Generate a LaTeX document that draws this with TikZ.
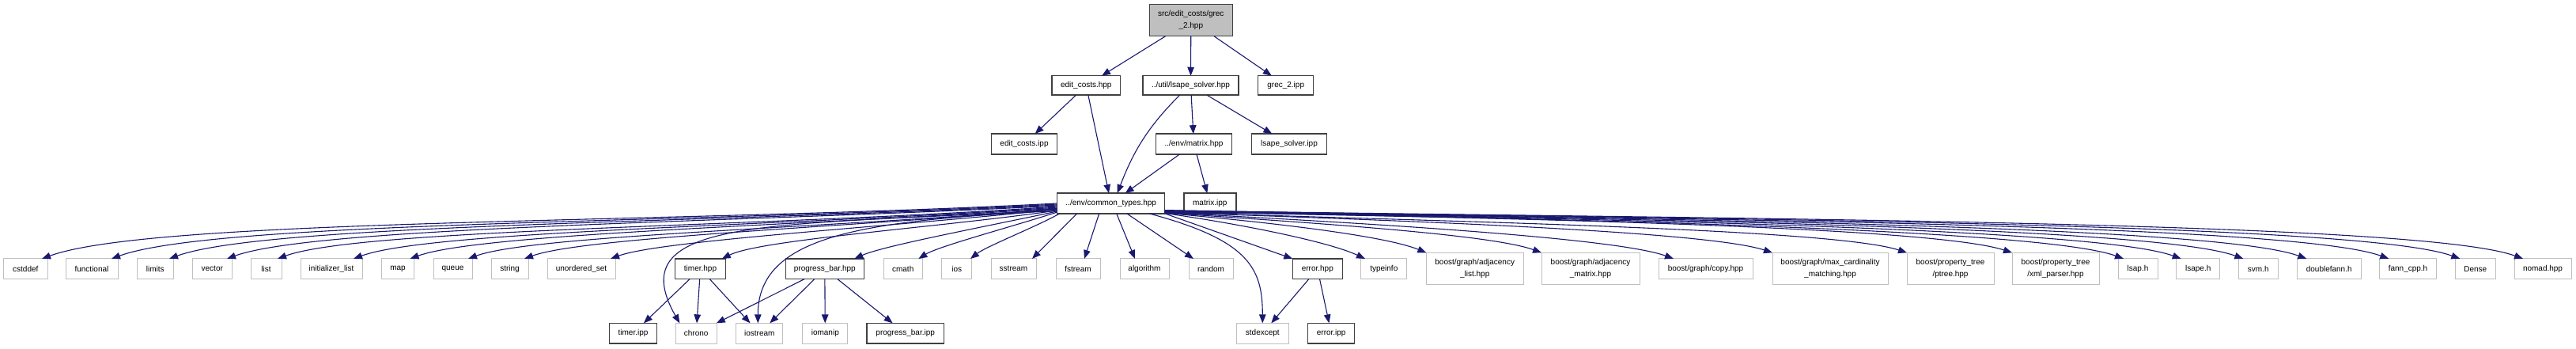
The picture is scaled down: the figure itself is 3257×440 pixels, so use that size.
\documentclass[tikz,border=0pt]{standalone}
\usepackage{fontspec}
\setmainfont{Liberation Sans}
\usetikzlibrary{arrows.meta}
\definecolor{edgec}{HTML}{191970}
\definecolor{gborder}{HTML}{BFBFBF}
\definecolor{dborder}{HTML}{404040}
\definecolor{rootfill}{HTML}{BFBFBF}
\begin{document}
\begin{tikzpicture}[x=1pt,y=1pt,
  box/.style={rectangle, inner sep=0pt, outer sep=0pt, minimum height=25.7pt, font=\fontsize{10pt}{15pt}\selectfont, align=center, fill=white, text=black},
  gbox/.style={box, draw=gborder, line width=1pt},
  dbox/.style={box, draw=dborder, line width=1.5pt},
  rbox/.style={dbox, fill=rootfill},
  tall/.style={minimum height=40pt},
  edge/.style={draw=edgec, line width=1.1pt, -{Triangle[length=11pt,width=8.5pt]}}
]
\useasboundingbox (0,0) rectangle (3257,440);
% top part
\node[rbox, tall, minimum width=105pt] (root) at (1505.8,414.3) {src/edit\_costs/grec\\\_2.hpp};
\node[dbox, minimum width=86.7pt, minimum height=24.5pt] (ech) at (1373.3,332) {edit\_costs.hpp};
\node[dbox, minimum width=121pt, minimum height=24.5pt] (lsh) at (1505.5,332) {../util/lsape\_solver.hpp};
\node[dbox, minimum width=70pt, minimum height=24.5pt] (grec) at (1625.7,332) {grec\_2.ipp};
\node[dbox, minimum width=83.4pt] (eci) at (1295,258) {edit\_costs.ipp};
\node[dbox, minimum width=95.6pt] (mh) at (1509.5,258) {../env/matrix.hpp};
\node[dbox, minimum width=94.6pt] (lsi) at (1630,258) {lsape\_solver.ipp};
\node[dbox, minimum width=136pt] (ct) at (1404.7,183) {../env/common\_types.hpp};
\node[dbox, minimum width=66pt] (mi) at (1529.8,183) {matrix.ipp};
% lower row
\node[gbox, minimum width=55.4pt] (cstddef) at (32.3,100.2) {cstddef};
\node[gbox, minimum width=66pt] (functional) at (116,100.2) {functional};
\node[gbox, minimum width=45.4pt] (limits) at (196.3,100.2) {limits};
\node[gbox, minimum width=49.4pt] (vector) at (268.3,100.2) {vector};
\node[gbox, minimum width=39pt] (list) at (336.5,100.2) {list};
\node[gbox, minimum width=78pt] (initlist) at (419,100.2) {initializer\_list};
\node[gbox, minimum width=41pt] (map) at (503,100.2) {map};
\node[gbox, minimum width=49pt] (queue) at (572.5,100.2) {queue};
\node[gbox, minimum width=47pt] (string) at (644.5,100.2) {string};
\node[gbox, minimum width=86pt] (uset) at (735,100.2) {unordered\_set};
\node[dbox, minimum width=64.4pt] (timerh) at (885.5,100.2) {timer.hpp};
\node[dbox, minimum width=99pt] (pbh) at (1042.8,100.2) {progress\_bar.hpp};
\node[gbox, minimum width=49.3pt] (cmath) at (1141.7,100.2) {cmath};
\node[gbox, minimum width=38.3pt] (ios) at (1209.8,100.2) {ios};
\node[gbox, minimum width=57pt] (sstream) at (1281.5,100.2) {sstream};
\node[gbox, minimum width=56pt] (fstream) at (1363,100.2) {fstream};
\node[gbox, minimum width=62pt] (algorithm) at (1447,100.2) {algorithm};
\node[gbox, minimum width=56pt] (random) at (1531,100.2) {random};
\node[dbox, minimum width=63pt] (errorh) at (1665.8,100.2) {error.hpp};
\node[gbox, minimum width=57.7pt] (typeinfo) at (1749.8,100.2) {typeinfo};
\node[gbox, tall, minimum width=122.7pt] (adjl) at (1864.7,100.7) {boost/graph/adjacency\\\_list.hpp};
\node[gbox, tall, minimum width=124pt] (adjm) at (2011,100.7) {boost/graph/adjacency\\\_matrix.hpp};
\node[gbox, minimum width=119pt] (copy) at (2156.5,100.2) {boost/graph/copy.hpp};
\node[gbox, tall, minimum width=146pt] (maxc) at (2314,100.7) {boost/graph/max\_cardinality\\\_matching.hpp};
\node[gbox, tall, minimum width=110pt] (ptree) at (2466,100.7) {boost/property\_tree\\/ptree.hpp};
\node[gbox, tall, minimum width=110pt] (xmlp) at (2599,100.7) {boost/property\_tree\\/xml\_parser.hpp};
\node[gbox, minimum width=50pt] (lsap) at (2703,100.2) {lsap.h};
\node[gbox, minimum width=55pt] (lsape) at (2779.2,100.2) {lsape.h};
\node[gbox, minimum width=49.7pt] (svm) at (2855.2,100.2) {svm.h};
\node[gbox, minimum width=80.7pt] (dfann) at (2944.7,100.2) {doublefann.h};
\node[gbox, minimum width=72.4pt] (fanncpp) at (3044.5,100.2) {fann\_cpp.h};
\node[gbox, minimum width=51pt] (dense) at (3129.8,100.2) {Dense};
\node[gbox, minimum width=72pt] (nomad) at (3215,100.2) {nomad.hpp};
% bottom row
\node[dbox, minimum width=59.6pt] (timeri) at (800.5,18.8) {timer.ipp};
\node[gbox, minimum width=51.7pt] (chrono) at (880.2,18.8) {chrono};
\node[gbox, minimum width=59.3pt] (iostream) at (960.3,18.8) {iostream};
\node[gbox, minimum width=56.7pt] (iomanip) at (1043.3,18.8) {iomanip};
\node[dbox, minimum width=97.3pt] (pbi) at (1144.7,18.8) {progress\_bar.ipp};
\node[gbox, minimum width=66pt] (stdexcept) at (1596.3,18.8) {stdexcept};
\node[dbox, minimum width=59pt] (errori) at (1683.2,18.8) {error.ipp};

% top edges
\draw[edge] (root) -- (ech);
\draw[edge] (root) -- (lsh);
\draw[edge] (root) -- (grec);
\draw[edge] (ech) -- (eci);
\draw[edge] (ech) -- (ct);
\draw[edge] ([xshift=-14pt]lsh.south) .. controls +(225:57) and +(69:57) .. ([xshift=8pt]ct.north);
\draw[edge] (lsh) -- (mh);
\draw[edge] (lsh) -- (lsi);
\draw[edge] (mh) -- (ct);
\draw[edge] (mh) -- (mi);

% common_types: left fan
\draw[edge] (ct.west) .. controls +(183:490) and +(20:150) .. ([xshift=-7pt]cstddef.north east);
\draw[edge] ([yshift=-1pt]ct.west) .. controls +(183:460) and +(20:140) .. ([xshift=-8pt]functional.north east);
\draw[edge] ([yshift=-2pt]ct.west) .. controls +(183:430) and +(20:130) .. ([xshift=-5pt]limits.north east);
\draw[edge] ([yshift=-3pt]ct.west) .. controls +(183:400) and +(20:120) .. ([xshift=-6pt]vector.north east);
\draw[edge] ([yshift=-4pt]ct.west) .. controls +(184:375) and +(20:112) .. ([xshift=-5pt]list.north east);
\draw[edge] ([yshift=-5pt]ct.west) .. controls +(184:340) and +(20:105) .. ([xshift=-11pt]initlist.north east);
\draw[edge] ([yshift=-6pt]ct.west) .. controls +(184:310) and +(20:95) .. ([xshift=-5pt]map.north east);
\draw[edge] ([yshift=-6.5pt]ct.west) .. controls +(185:285) and +(20:88) .. ([xshift=-5pt]queue.north east);
\draw[edge] ([yshift=-7pt]ct.west) .. controls +(185:258) and +(20:80) .. ([xshift=-5pt]string.north east);
\draw[edge] ([yshift=-7.5pt]ct.west) .. controls +(186:215) and +(20:68) .. ([xshift=-6pt]uset.north east);
\draw[edge] ([yshift=-8pt]ct.west) .. controls +(-350,-22) and +(-79,138) .. ([xshift=5pt]chrono.north west);
\draw[edge] ([yshift=-9pt]ct.west) .. controls +(188:160) and +(26:55) .. ([xshift=-5pt]timerh.north east);
\draw[edge] ([yshift=-9.5pt]ct.west) .. controls +(-250,-12) and +(0,110) .. ([xshift=-2pt]iostream.north);
\draw[edge] ([yshift=-10pt]ct.west) .. controls +(192:100) and +(24:40) .. ([xshift=-12pt]pbh.north east);
\draw[edge] ([yshift=-11pt]ct.west) .. controls +(198:60) and +(32:30) .. ([xshift=-5pt]cmath.north east);
\draw[edge] ([xshift=3pt]ct.south west) .. controls +(210:30) and +(38:25) .. ([xshift=-2pt]ios.north east);
% common_types: bottom
\draw[edge] ([xshift=25pt]ct.south west) -- ([xshift=-5pt]sstream.north east);
\draw[edge] ([xshift=53pt]ct.south west) -- ([xshift=8pt]fstream.north);
\draw[edge] ([xshift=75pt]ct.south west) -- ([xshift=-12pt]algorithm.north);
\draw[edge] ([xshift=88pt]ct.south west) -- ([xshift=-22pt]random.north);
\draw[edge] ([xshift=-19.7pt]ct.south east) .. controls +(-15:130) and +(90:70) .. (stdexcept.north);
\draw[edge] (ct.south east) -- (errorh.north west);
% common_types: right fan
\draw[edge] ([yshift=-12.5pt]ct.east) .. controls +(-8:100) and +(155:50) .. ([xshift=5pt]typeinfo.north west);
\draw[edge] ([yshift=-12.2pt]ct.east) .. controls +(-5:120) and +(158:60) .. (adjl.north west);
\draw[edge] ([yshift=-11.9pt]ct.east) .. controls +(-4:170) and +(160:70) .. (adjm.north west);
\draw[edge] ([yshift=-11.6pt]ct.east) .. controls +(-3:230) and +(160:80) .. ([xshift=19pt]copy.north west);
\draw[edge] ([yshift=-11.3pt]ct.east) .. controls +(-2:280) and +(162:90) .. (maxc.north west);
\draw[edge] ([yshift=-11pt]ct.east) .. controls +(-2:340) and +(162:100) .. (ptree.north west);
\draw[edge] ([yshift=-10.7pt]ct.east) .. controls +(-1:390) and +(162:110) .. (xmlp.north west);
\draw[edge] ([yshift=-10.4pt]ct.east) .. controls +(-1:440) and +(160:115) .. ([xshift=7pt]lsap.north west);
\draw[edge] ([yshift=-10.1pt]ct.east) .. controls +(-1:470) and +(160:120) .. ([xshift=6pt]lsape.north west);
\draw[edge] ([yshift=-9.8pt]ct.east) .. controls +(-1:500) and +(160:125) .. ([xshift=6pt]svm.north west);
\draw[edge] ([yshift=-9.5pt]ct.east) .. controls +(-1:530) and +(160:130) .. ([xshift=12pt]dfann.north west);
\draw[edge] ([yshift=-9.2pt]ct.east) .. controls +(-1:570) and +(160:135) .. ([xshift=12pt]fanncpp.north west);
\draw[edge] ([yshift=-8.9pt]ct.east) .. controls +(-1:600) and +(160:140) .. ([xshift=6pt]dense.north west);
\draw[edge] ([yshift=-8.6pt]ct.east) .. controls +(-1:630) and +(160:145) .. ([xshift=11pt]nomad.north west);

% sub-dependencies
\draw[edge] (timerh) -- (timeri);
\draw[edge] (timerh) -- (chrono);
\draw[edge] (timerh) -- (iostream);
\draw[edge] (pbh) -- (chrono);
\draw[edge] (pbh) -- (iostream);
\draw[edge] (pbh) -- (iomanip);
\draw[edge] (pbh) -- (pbi);
\draw[edge] (errorh) -- (stdexcept);
\draw[edge] (errorh) -- (errori);
\end{tikzpicture}
\end{document}
